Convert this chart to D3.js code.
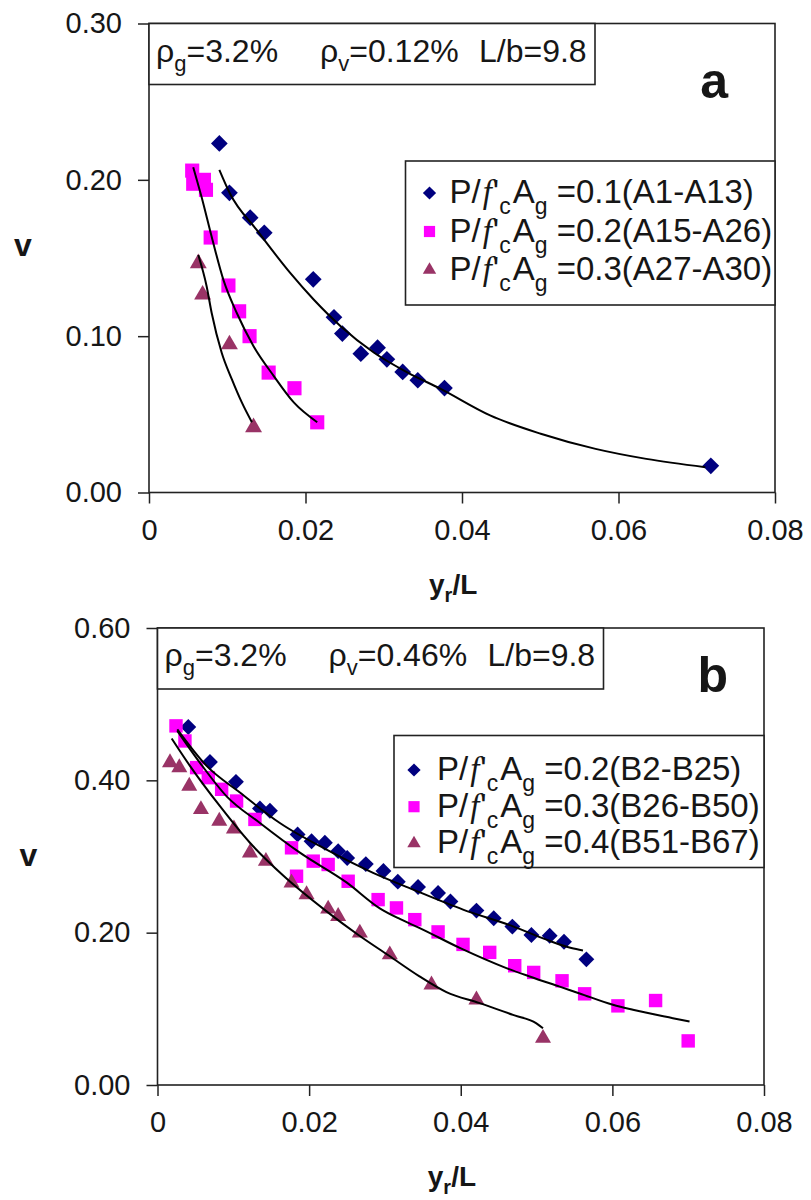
<!DOCTYPE html>
<html>
<head>
<meta charset="utf-8">
<script src="https://cdn.jsdelivr.net/npm/d3@7/dist/d3.min.js"></script>
<style>
  body { margin: 0; background: #fff; }
  text { font-family: "Liberation Sans", Arial, sans-serif; fill: #161616; }
</style>
</head>
<body>
<div id="chart"></div>
<script>
// Assi
const xTicks = [0, 0.02, 0.04, 0.06, 0.08];
const xTickLabels = ["0", "0.02", "0.04", "0.06", "0.08"];
const yTicksA = [0, 0.1, 0.2, 0.3];
const yTickLabelsA = ["0.00", "0.10", "0.20", "0.30"];
const yTicksB = [0, 0.2, 0.4, 0.6];
const yTickLabelsB = ["0.00", "0.20", "0.40", "0.60"];

// Pannello a : [yr/L, v]
const aSeries1 = [[0.00899, 0.2233], [0.01028, 0.1917], [0.01293, 0.1758], [0.01473, 0.1661], [0.02099, 0.1364],
  [0.02364, 0.1121], [0.02471, 0.1017], [0.02707, 0.0888], [0.02921, 0.0926], [0.0304, 0.0852],
  [0.03242, 0.0771], [0.03435, 0.0718], [0.03776, 0.0668], [0.0718, 0.0171]];
const aSeries2 = [[0.00552, 0.2059], [0.00565, 0.1975], [0.00702, 0.2000], [0.00728, 0.1936], [0.00788, 0.1631],
  [0.01015, 0.1324], [0.01152, 0.1159], [0.01285, 0.1000], [0.01529, 0.0767], [0.01859, 0.0667], [0.0215, 0.0449]];
const aSeries3 = [[0.0063, 0.1466], [0.00685, 0.1265], [0.01028, 0.0947], [0.01336, 0.0417]];
const aFit1 = [[0.00899, 0.2064], [0.01036, 0.1911], [0.01379, 0.1678], [0.01807, 0.1403], [0.02107, 0.1233],
  [0.02449, 0.1064], [0.02877, 0.0894], [0.03306, 0.0767], [0.03734, 0.0661], [0.04359, 0.0493],
  [0.05006, 0.0376], [0.05707, 0.0279], [0.06355, 0.0215], [0.0711, 0.0162]];
const aFit2 = [[0.00565, 0.2081], [0.00672, 0.189], [0.00801, 0.1636], [0.00951, 0.136], [0.01122, 0.1148],
  [0.01336, 0.0936], [0.01593, 0.0746], [0.0185, 0.0576], [0.0215, 0.0449]];
const aFit3 = [[0.0063, 0.1519], [0.00737, 0.1318], [0.00801, 0.1148], [0.00929, 0.0894], [0.01058, 0.0725],
  [0.01186, 0.0576], [0.01315, 0.0449]];
const aParams = ["3.2%", "0.12%", "9.8"];
const aLegend = ["0.1(A1-A13)", "0.2(A15-A26)", "0.3(A27-A30)"];

// Pannello b
const bSeries1 = [[0.00406, 0.470], [0.00692, 0.424], [0.01035, 0.398], [0.01351, 0.363], [0.01483, 0.360],
  [0.01848, 0.329], [0.02032, 0.320], [0.02208, 0.318], [0.02383, 0.307], [0.02502, 0.298],
  [0.02748, 0.290], [0.02980, 0.281], [0.03170, 0.267], [0.03437, 0.260], [0.03701, 0.252],
  [0.03864, 0.241], [0.04207, 0.229], [0.04435, 0.219], [0.04681, 0.208], [0.04932, 0.197],
  [0.05173, 0.196], [0.05362, 0.188], [0.05657, 0.165]];
const bSeries2 = [[0.00244, 0.4715], [0.00362, 0.4517], [0.00516, 0.4167], [0.0067, 0.4035], [0.00846, 0.3882],
  [0.01043, 0.3728], [0.01285, 0.3487], [0.01768, 0.3114], [0.01834, 0.2741], [0.02054, 0.2939],
  [0.02251, 0.2895], [0.02515, 0.2675], [0.0291, 0.2434], [0.03152, 0.2325], [0.03394, 0.2171],
  [0.03701, 0.2010], [0.0403, 0.1846], [0.04382, 0.1741], [0.04712, 0.1566], [0.04962, 0.1478],
  [0.05336, 0.1368], [0.05634, 0.1197], [0.06073, 0.1039], [0.0657, 0.1109], [0.0700, 0.0579]];
const bSeries3 = [[0.00165, 0.4233], [0.00288, 0.4167], [0.00419, 0.3925], [0.00573, 0.3618], [0.00815, 0.3465],
  [0.01008, 0.3364], [0.01219, 0.3048], [0.0143, 0.2938], [0.01768, 0.2654], [0.01966, 0.25],
  [0.02251, 0.2311], [0.02383, 0.2215], [0.02669, 0.1996], [0.03064, 0.1711], [0.03614, 0.1316],
  [0.04207, 0.1118], [0.05085, 0.0614]];
const bFit1 = [[0.00261, 0.467], [0.00648, 0.419], [0.01087, 0.384], [0.01614, 0.344], [0.0223, 0.309],
  [0.02844, 0.2786], [0.03372, 0.2566], [0.0403, 0.2303], [0.04689, 0.2083], [0.0513, 0.1908],
  [0.05459, 0.1798], [0.05612, 0.1767]];
const bFit2 = [[0.00261, 0.465], [0.0056, 0.423], [0.00912, 0.379], [0.01351, 0.344], [0.01878, 0.305],
  [0.02493, 0.266], [0.02932, 0.232], [0.03196, 0.218], [0.03459, 0.206], [0.03987, 0.180],
  [0.04602, 0.1535], [0.04909, 0.1425], [0.05305, 0.1291], [0.05568, 0.1202], [0.06007, 0.1053],
  [0.06271, 0.0987], [0.06798, 0.0877], [0.07018, 0.0833]];
const bFit3 = [[0.00187, 0.455], [0.00428, 0.419], [0.00824, 0.366], [0.01219, 0.318], [0.01658, 0.275],
  [0.0223, 0.228], [0.0265, 0.197], [0.0305, 0.170], [0.0345, 0.143], [0.03811, 0.122],
  [0.0425, 0.1075], [0.04689, 0.092], [0.04998, 0.081], [0.05085, 0.0746]];
const bParams = ["3.2%", "0.46%", "9.8"];
const bLegend = ["0.2(B2-B25)", "0.3(B26-B50)", "0.4(B51-B67)"];

// Stili serie
const colors = ["#00007f", "#ff00ff", "#993366"];

const svg = d3.select("#chart").append("svg")
  .attr("width", 811)
  .attr("height", 1200);

const markerPath = (i, size) => {
  if (i === 0) return d3.symbol().type(d3.symbolSquare).size(size * 0.7)();
  if (i === 1) return d3.symbol().type(d3.symbolSquare).size(size)();
  return d3.symbol().type(d3.symbolTriangle).size(size * 0.62)();
};

const addSub = (text, main, sub, subSize) => {
  text.append("tspan").text(main);
  text.append("tspan").attr("dy", 9).attr("font-size", subSize).text(sub);
};

const drawPanel = (p) => {
  const g = svg.append("g");
  const x = d3.scaleLinear().domain([0, 0.08]).range([p.left, p.right]);
  const y = d3.scaleLinear().domain([0, p.yMax]).range([p.bottom, p.top]);

  // assi
  const xAxis = g.append("g")
    .attr("transform", "translate(0," + p.bottom + ")")
    .call(d3.axisBottom(x).tickValues(xTicks).tickFormat((d, i) => xTickLabels[i]).tickSize(11).tickSizeOuter(0));
  xAxis.selectAll("text").attr("y", 47).attr("dy", null).style("font-size", "29px");
  const yAxis = g.append("g")
    .attr("transform", "translate(" + p.left + ",0)")
    .call(d3.axisLeft(y).tickValues(p.yTicks).tickFormat((d, i) => p.yTickLabels[i]).tickSize(11).tickPadding(16).tickSizeOuter(0));
  yAxis.selectAll("text").style("font-size", "29px");
  g.selectAll(".domain").remove();
  g.selectAll(".tick line").attr("stroke", "#222").attr("stroke-width", 1.5);

  g.append("rect")
    .attr("x", p.left).attr("y", p.top)
    .attr("width", p.right - p.left).attr("height", p.bottom - p.top)
    .attr("fill", "none").attr("stroke", "#222").attr("stroke-width", 1.6);

  // punti
  p.series.forEach((data, i) => {
    g.append("g").selectAll("path")
      .data(data)
      .enter()
      .append("path")
      .attr("d", markerPath(i, p.markerSize))
      .attr("transform", d => "translate(" + x(d[0]) + "," + y(d[1]) + ")" + (i === 0 ? " rotate(45)" : ""))
      .attr("fill", colors[i]);
  });

  // curve di regressione
  const line = d3.line().x(d => x(d[0])).y(d => y(d[1])).curve(d3.curveMonotoneX);
  p.fits.forEach(data => {
    g.append("path")
      .attr("d", line(data))
      .attr("fill", "none")
      .attr("stroke", "#000")
      .attr("stroke-width", 2);
  });

  // riquadro parametri
  g.append("rect")
    .attr("x", p.left).attr("y", p.top)
    .attr("width", 446).attr("height", 61)
    .attr("fill", "#fff").attr("stroke", "#222").attr("stroke-width", 1.6);
  const t1 = g.append("text").attr("x", p.left + 7).attr("y", p.top + 38).style("font-size", "32px");
  addSub(t1, "ρ", "g", 22);
  t1.append("tspan").attr("dy", -9).text("=" + p.params[0]);
  const t2 = g.append("text").attr("x", p.left + 171).attr("y", p.top + 38).style("font-size", "32px");
  addSub(t2, "ρ", "v", 22);
  t2.append("tspan").attr("dy", -9).text("=" + p.params[1]);
  g.append("text").attr("x", p.left + 330).attr("y", p.top + 38).style("font-size", "32px")
    .text("L/b=" + p.params[2]);

  // lettera pannello
  g.append("text")
    .attr("x", 728).attr("y", p.top + p.letterY)
    .attr("text-anchor", "end")
    .style("font-size", "50px").style("font-weight", "bold")
    .text(p.letter);

  // legenda
  const lg = g.append("g").attr("transform", "translate(" + p.legX + "," + p.legY + ")");
  lg.append("rect")
    .attr("width", p.right - p.legX).attr("height", p.legH)
    .attr("fill", "#fff").attr("stroke", "#222").attr("stroke-width", 1.6);
  p.legend.forEach((label, i) => {
    const by = p.legRow0 + i * p.legStep;
    lg.append("path")
      .attr("d", markerPath(i, 125))
      .attr("transform", "translate(" + p.legMarkX + "," + (by - 10) + ")" + (i === 0 ? " rotate(45)" : ""))
      .attr("fill", colors[i]);
    const t = lg.append("text").attr("x", p.legTextX).attr("y", by).style("font-size", "33px");
    t.append("tspan").text("P/");
    t.append("tspan").attr("dx", 2).style("font-family", "'Liberation Serif', serif").style("font-style", "italic").text("f");
    t.append("tspan").attr("dx", 1).text("'");
    t.append("tspan").attr("dy", 11).style("font-size", "23px").text("c");
    t.append("tspan").attr("dy", -11).attr("dx", 2).text("A");
    t.append("tspan").attr("dy", 11).style("font-size", "23px").text("g");
    t.append("tspan").attr("dy", -11).text(" =" + label);
  });

  // titoli assi
  g.append("text")
    .attr("x", p.vX).attr("y", p.vY)
    .attr("text-anchor", "middle")
    .style("font-size", "32px").style("font-weight", "bold")
    .text("v");
  const xt = g.append("text")
    .attr("x", (p.left + p.right) / 2 - 33).attr("y", p.bottom + 101)
    .style("font-size", "28px").style("font-weight", "bold");
  xt.append("tspan").text("y");
  xt.append("tspan").attr("dy", 8).style("font-size", "20px").text("r");
  xt.append("tspan").attr("dy", -8).text("/L");
};

drawPanel({
  left: 149, right: 775, top: 23.5, bottom: 492.5, yMax: 0.3,
  yTicks: yTicksA, yTickLabels: yTickLabelsA,
  series: [aSeries1, aSeries2, aSeries3], fits: [aFit1, aFit2, aFit3], markerSize: 200,
  params: aParams, letter: "a", letterY: 74.5,
  legend: aLegend, legX: 405.5, legY: 161, legH: 144, legRow0: 42, legStep: 38.5, legMarkX: 24, legTextX: 44,
  vX: 23, vY: 256
});

drawPanel({
  left: 157.5, right: 764, top: 628, bottom: 1085, yMax: 0.6,
  yTicks: yTicksB, yTickLabels: yTickLabelsB,
  series: [bSeries1, bSeries2, bSeries3], fits: [bFit1, bFit2, bFit3], markerSize: 180,
  params: bParams, letter: "b", letterY: 63.5,
  legend: bLegend, legX: 394, legY: 735.5, legH: 132, legRow0: 44.5, legStep: 36.7, legMarkX: 20, legTextX: 43,
  vX: 28.5, vY: 866
});
</script>
</body>
</html>
